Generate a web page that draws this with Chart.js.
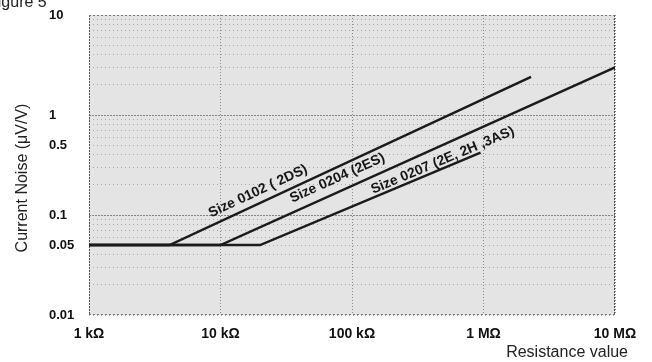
<!DOCTYPE html>
<html>
<head>
<meta charset="utf-8">
<script src="https://cdn.jsdelivr.net/npm/chart.js@4.4.1/dist/chart.umd.min.js"></script>
<style>
  html, body { margin: 0; padding: 0; background: #fff; }
  #wrap { width: 652px; height: 362px; }
</style>
</head>
<body>
<div id="wrap"><canvas id="noiseChart" width="652" height="362"></canvas></div>
<script>
// x: resistance (ohm), y: current noise (uV/V)
const ohmTicks = [1e3, 1e4, 1e5, 1e6, 1e7];
const ohmLabels = ['1 kΩ', '10 kΩ', '100 kΩ', '1 MΩ', '10 MΩ'];
const noiseTicks = [0.01, 0.05, 0.1, 0.5, 1, 10];
const noiseLabels = ['0.01', '0.05', '0.1', '0.5', '1', '10'];

const seriesNames = ['Size 0102 ( 2DS)', 'Size 0204 (2ES)', 'Size 0207 (2E, 2H ,3AS)'];
const ohms0102 = [1e3, 4.1e3, 2.3e6];
const noise0102 = [0.05, 0.05, 2.4];
const ohms0204 = [1e3, 1e4, 1e7];
const noise0204 = [0.05, 0.05, 3.0];
const ohms0207 = [1e3, 2e4, 9.5e5];
const noise0207 = [0.05, 0.05, 0.42];

// where each rotated label sits along its line (resistance value) and how far above it
const labelAt = [21e3, 85e3, 515e3];
const labelGap = [11.5, 13, 7.5];

const toPoints = (xs, ys) => xs.map((x, i) => ({ x: x, y: ys[i] }));
const series = [toPoints(ohms0102, noise0102), toPoints(ohms0204, noise0204), toPoints(ohms0207, noise0207)];

// minor grid: 1..9 in every decade
const gridValues = [];
[0.01, 0.1, 1].forEach(d => { for (let m = 1; m <= 9; m++) gridValues.push(+(d * m).toPrecision(3)); });
gridValues.push(10);

const findIdx = (list, v) => list.findIndex(t => Math.abs(t - v) / t < 1e-6);

const plotDeco = {
  id: 'plotDeco',
  beforeDraw(chart) {
    const { ctx, chartArea: a } = chart;
    ctx.save();
    ctx.fillStyle = '#e4e4e4';
    ctx.fillRect(a.left, a.top, a.right - a.left, a.bottom - a.top);
    ctx.restore();
  },
  beforeDatasetsDraw(chart) {
    const { ctx, chartArea: a } = chart;
    ctx.save();
    ctx.lineWidth = 1;
    ctx.strokeStyle = '#555';
    ctx.setLineDash([2, 1]);
    ctx.beginPath();
    ctx.moveTo(a.left + 0.5, a.top); ctx.lineTo(a.left + 0.5, a.bottom);
    ctx.moveTo(a.right - 0.5, a.top); ctx.lineTo(a.right - 0.5, a.bottom);
    ctx.stroke();
    ctx.strokeStyle = '#777';
    ctx.setLineDash([2, 2]);
    ctx.beginPath();
    ctx.moveTo(a.left, a.top + 0.5); ctx.lineTo(a.right, a.top + 0.5);
    ctx.moveTo(a.left, a.bottom - 0.5); ctx.lineTo(a.right, a.bottom - 0.5);
    ctx.stroke();
    ctx.restore();
  },
  afterDraw(chart) {
    const { ctx, scales: { x, y } } = chart;
    ctx.save();
    ctx.fillStyle = '#161616';
    ctx.font = 'bold 14px "Liberation Sans", Arial, sans-serif';
    ctx.textAlign = 'center';
    ctx.textBaseline = 'middle';
    series.forEach((pts, i) => {
      const ax = labelAt[i];
      let k = 0;
      while (k < pts.length - 2 && pts[k + 1].x < ax) k++;
      const p0 = pts[k], p1 = pts[k + 1];
      const t = (Math.log(ax) - Math.log(p0.x)) / (Math.log(p1.x) - Math.log(p0.x));
      const ay = Math.exp(Math.log(p0.y) + t * (Math.log(p1.y) - Math.log(p0.y)));
      const x0 = x.getPixelForValue(p0.x), y0 = y.getPixelForValue(p0.y);
      const x1 = x.getPixelForValue(p1.x), y1 = y.getPixelForValue(p1.y);
      const ang = Math.atan2(y1 - y0, x1 - x0);
      const px = x.getPixelForValue(ax) + Math.sin(ang) * labelGap[i];
      const py = y.getPixelForValue(ay) - Math.cos(ang) * labelGap[i];
      ctx.save();
      ctx.translate(px, py);
      ctx.rotate(ang);
      ctx.fillText(seriesNames[i], 0, 0);
      ctx.restore();
    });

    ctx.fillStyle = '#222';
    ctx.font = '16px "Liberation Sans", Arial, sans-serif';
    ctx.save();
    ctx.translate(23, 178);
    ctx.rotate(-Math.PI / 2);
    ctx.fillText('Current Noise (μV/V)', 0, 0);
    ctx.restore();

    ctx.textAlign = 'right';
    ctx.fillText('Resistance value', 628, 353);

    ctx.textAlign = 'left';
    ctx.textBaseline = 'alphabetic';
    ctx.fillText('Figure 5', -12, 7);
    ctx.restore();
  }
};

const ctx = document.getElementById('noiseChart').getContext('2d');
const noiseChart = new Chart(ctx, {
  type: 'line',
  data: {
    datasets: series.map((pts, i) => ({
      label: seriesNames[i],
      data: pts,
      borderColor: '#1b1b1b',
      borderWidth: 2.5,
      pointRadius: 0,
      tension: 0,
      fill: false
    }))
  },
  options: {
    responsive: false,
    animation: false,
    layout: { padding: { left: 49, right: 37, top: 15, bottom: 0 } },
    plugins: { legend: { display: false }, tooltip: { enabled: false } },
    scales: {
      x: {
        type: 'logarithmic',
        min: 1e3,
        max: 1e7,
        afterBuildTicks: (s) => { s.ticks = ohmTicks.map(v => ({ value: v })); },
        afterFit: (s) => { s.height = 47; },
        ticks: {
          autoSkip: false,
          maxRotation: 0,
          padding: 11,
          color: '#111',
          font: { family: '"Liberation Sans", Arial, sans-serif', size: 14, weight: 'bold' },
          callback: (v) => { const i = findIdx(ohmTicks, v); return i < 0 ? '' : ohmLabels[i]; }
        },
        grid: { color: '#8c8c8c', lineWidth: 1, drawTicks: false },
        border: { display: false, dash: [1, 2] }
      },
      y: {
        type: 'logarithmic',
        min: 0.01,
        max: 10,
        afterBuildTicks: (s) => { s.ticks = gridValues.map(v => ({ value: v })); },
        afterFit: (s) => { s.width = 40; },
        ticks: {
          autoSkip: false,
          crossAlign: 'far',
          color: '#111',
          font: { family: '"Liberation Sans", Arial, sans-serif', size: 13, weight: 'bold' },
          callback: (v) => { const i = findIdx(noiseTicks, v); return i < 0 ? '' : noiseLabels[i]; }
        },
        grid: {
          drawTicks: false,
          lineWidth: 1,
          color: (c) => (c.tick && [0.1, 1].indexOf(c.tick.value) >= 0) ? '#858585' : '#a8a8a8'
        },
        border: {
          display: false,
          dash: (c) => (c.tick && [0.1, 1].indexOf(c.tick.value) >= 0) ? [2, 1] : [1, 3]
        }
      }
    }
  },
  plugins: [plotDeco]
});
</script>
</body>
</html>
